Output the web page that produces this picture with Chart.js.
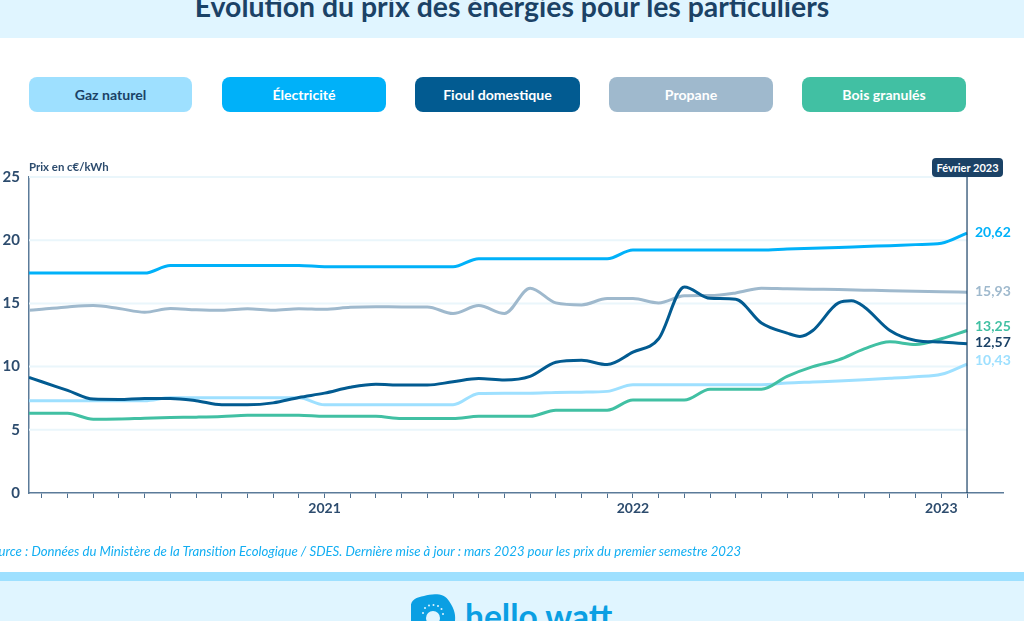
<!DOCTYPE html>
<html lang="fr">
<head>
<meta charset="utf-8">
<title>Évolution du prix des énergies</title>
<script src="https://cdn.jsdelivr.net/npm/chart.js@4"></script>
<style>
html,body{margin:0;padding:0;background:#fff;}
body{width:1024px;height:621px;position:relative;overflow:hidden;font-family:Lato,sans-serif;}
#top{position:absolute;left:0;top:0;width:1024px;height:38px;background:#e0f5ff;overflow:hidden;}
#top h1{position:absolute;left:0;width:1024px;top:-11px;margin:0;text-align:center;font:700 28.4px/34px Lato,sans-serif;color:#1b4266;}
.btn{position:absolute;top:77px;height:35px;width:164px;border-radius:8px;text-align:center;font:700 14.1px/35px Lato,sans-serif;}
#c{position:absolute;left:0;top:0;}
.end{position:absolute;left:975px;font:700 14px/16px Lato,sans-serif;}
#unit{position:absolute;left:29px;top:160px;font:700 11.4px/14px Lato,sans-serif;color:#2d4c6e;}
#tag{position:absolute;left:932px;top:158px;width:71px;height:19px;border-radius:4px;background:#1b4266;color:#fff;text-align:center;font:700 11px/19px Lato,sans-serif;}
#src{position:absolute;left:-15px;top:543px;white-space:nowrap;font:italic 400 13.2px/16px Lato,sans-serif;color:#12aef2;}
#band{position:absolute;left:0;top:572px;width:1024px;height:9px;background:#9ee0ff;}
#foot{position:absolute;left:0;top:581px;width:1024px;height:40px;background:#e0f5ff;overflow:hidden;}
#foot span{position:absolute;left:465px;top:14px;font:700 33.6px/42px Lato,sans-serif;color:#0a9fe3;}
#foot svg{position:absolute;left:409px;top:12px;}
</style>
</head>
<body>
<div id="top"><h1>Évolution du prix des énergies pour les particuliers</h1></div>
<div class="btn" style="left:29px;width:163px;background:#9ee0ff;color:#1b4266">Gaz naturel</div>
<div class="btn" style="left:222px;background:#00b1f9;color:#fff">Électricité</div>
<div class="btn" style="left:415px;width:165px;background:#025b91;color:#fff">Fioul domestique</div>
<div class="btn" style="left:609px;background:#9fb9cd;color:#fff">Propane</div>
<div class="btn" style="left:802px;background:#41c0a3;color:#fff">Bois granulés</div>
<canvas id="c" width="1024" height="621"></canvas>
<div id="unit">Prix en c€/kWh</div>
<div id="tag">Février 2023</div>
<div class="end" style="top:224px;color:#00b1f9">20,62</div>
<div class="end" style="top:283px;color:#9fb9cd">15,93</div>
<div class="end" style="top:318px;color:#41c0a3">13,25</div>
<div class="end" style="top:334px;color:#1b4266">12,57</div>
<div class="end" style="top:352px;color:#9ee0ff">10,43</div>
<div id="src">Source : Données du Ministère de la Transition Ecologique / SDES. Dernière mise à jour : mars 2023 pour les prix du premier semestre 2023</div>
<div id="band"></div>
<div id="foot">
<svg width="48" height="28" viewBox="0 0 48 28"><path d="M2 14C1 7 8 4 15 3C24 0 36 0 40 8C44 14 47 20 46 28H2Z" fill="#0a9fe3"/><circle cx="24" cy="25" r="7" fill="#e0f5ff"/><g fill="#e0f5ff"><circle cx="14" cy="20" r="1"/><circle cx="16" cy="15" r="1"/><circle cx="20" cy="12.5" r="1"/><circle cx="24.5" cy="12" r="1"/><circle cx="29" cy="13" r="1"/><circle cx="32.5" cy="16" r="1"/><circle cx="34" cy="21" r="1"/></g></svg>
<span>hello watt</span>
</div>
<script>
// months counted from January 2020 = 0; February 2023 = 37
const months = [0.5,1,2,3,4,5,6,7,8,9,10,11,12,13,14,15,16,17,18,19,20,21,22,23,24,25,26,27,28,29,30,31,32,33,34,35,36,37];
const gaz = [7.3,7.3,7.3,7.3,7.3,7.3,7.53,7.53,7.53,7.53,7.53,7.53,6.98,6.98,6.98,6.98,6.98,6.98,7.88,7.9,7.9,7.96,7.98,8.04,8.57,8.57,8.57,8.57,8.57,8.57,8.7,8.78,8.86,8.96,9.07,9.2,9.39,10.2];
const electricite = [17.4,17.4,17.4,17.4,17.4,17.4,18,18,18,18,18,18,17.9,17.9,17.9,17.9,17.9,17.9,18.54,18.54,18.54,18.54,18.54,18.54,19.23,19.23,19.23,19.23,19.23,19.23,19.3,19.36,19.42,19.5,19.57,19.65,19.76,20.56];
const propane = [14.46,14.54,14.72,14.83,14.6,14.3,14.6,14.5,14.46,14.58,14.46,14.58,14.53,14.69,14.74,14.72,14.72,14.2,14.83,14.2,16.2,15.04,14.88,15.38,15.38,15.04,15.6,15.62,15.83,16.2,16.15,16.12,16.1,16.05,16,15.97,15.92,15.89];
const bois = [6.31,6.31,6.31,5.84,5.86,5.92,5.97,6,6.05,6.15,6.15,6.15,6.07,6.07,6.07,5.89,5.89,5.89,6.07,6.07,6.07,6.55,6.55,6.55,7.35,7.35,7.35,8.2,8.2,8.2,9.23,10,10.53,11.4,11.96,11.75,12.2,12.86];
const fioulMonths = [0.5,1,2,3,4,5,6,7,8,9,10,11,12,13,14,15,16,17,18,19,20,21,22,23,24,25,26,27,28,29,30,30.5,31,32,32.5,33,34,35,36,37];
const fioul = [9.15,8.8,8.12,7.43,7.4,7.48,7.48,7.3,6.98,6.98,7.13,7.56,7.9,8.36,8.6,8.54,8.54,8.8,9.05,8.94,9.23,10.34,10.5,10.16,11.14,12.2,16.3,15.4,15.33,13.45,12.65,12.39,12.86,15.04,15.2,14.72,12.86,12.07,11.94,11.8];
const yearTicks = {12:'2021',24:'2022',36:'2023'};
const yTicks = [0,5,10,15,20,25];
const lastMonth = 37;

const pts = (xs, ys) => xs.map((x,i)=>({x, y:ys[i]}));
const line = (label, xs, ys, color, order) => ({
  label, data: pts(xs,ys), borderColor: color, backgroundColor: color,
  borderWidth: 3, pointRadius: 0, cubicInterpolationMode: 'monotone', order
});

const guide = {
  id: 'guide',
  beforeDatasetsDraw(chart){
    const {ctx, scales:{x,y}} = chart;
    const right = x.getPixelForValue(lastMonth);
    ctx.save();
    ctx.strokeStyle = '#eaf6fb'; ctx.lineWidth = 2;
    yTicks.filter(v=>v>0).forEach(v=>{
      const p = y.getPixelForValue(v);
      ctx.beginPath(); ctx.moveTo(x.left,p); ctx.lineTo(right,p); ctx.stroke();
    });
    ctx.restore();
  },
  afterDatasetsDraw(chart){
    const {ctx, scales:{x,y}} = chart;
    const r = x.getPixelForValue(lastMonth);
    ctx.save();
    ctx.strokeStyle = '#1b4266'; ctx.lineWidth = 1.2;
    ctx.beginPath(); ctx.moveTo(r,y.top); ctx.lineTo(r,y.bottom); ctx.stroke();
    ctx.restore();
  }
};

new Chart(document.getElementById('c'), {
  type: 'line',
  data: { datasets: [
    line('Fioul domestique', fioulMonths, fioul, '#025b91', 1),
    line('Bois granulés', months, bois, '#41c0a3', 2),
    line('Propane', months, propane, '#9fb9cd', 3),
    line('Électricité', months, electricite, '#00b1f9', 4),
    line('Gaz naturel', months, gaz, '#9ee0ff', 5)
  ]},
  options: {
    responsive: false, animation: false, devicePixelRatio: 1,
    layout: { padding: { left: 0, top: 177, right: 21, bottom: 88 } },
    plugins: { legend: {display:false}, tooltip: {enabled:false} },
    scales: {
      x: {
        type: 'linear', min: 0.5, max: 38.4,
        afterBuildTicks(s){ s.ticks = Array.from({length:37},(_,i)=>({value:i+1})); },
        afterFit(s){ s.height = 40; },
        grid: { display:true, drawOnChartArea:false, drawTicks:true, tickLength:5, tickColor:'#4d6f8f', tickWidth:1 },
        border: { color:'#5b7b99', width:1.5 },
        ticks: {
          autoSkip:false, maxRotation:0, padding:2, color:'#2d4c6e',
          font:{family:'Lato',weight:'700',size:14},
          callback:v=>yearTicks[v]||''
        }
      },
      y: {
        min: 0, max: 25,
        afterBuildTicks(s){ s.ticks = yTicks.map(value=>({value})); },
        afterFit(s){ s.width = 29; },
        grid: { display:false },
        border: { color:'#5b7b99', width:1.5 },
        ticks: { padding:1, color:'#2d4c6e', font:{family:'Lato',weight:'700',size:15} }
      }
    }
  },
  plugins: [guide]
});
</script>
</body>
</html>
